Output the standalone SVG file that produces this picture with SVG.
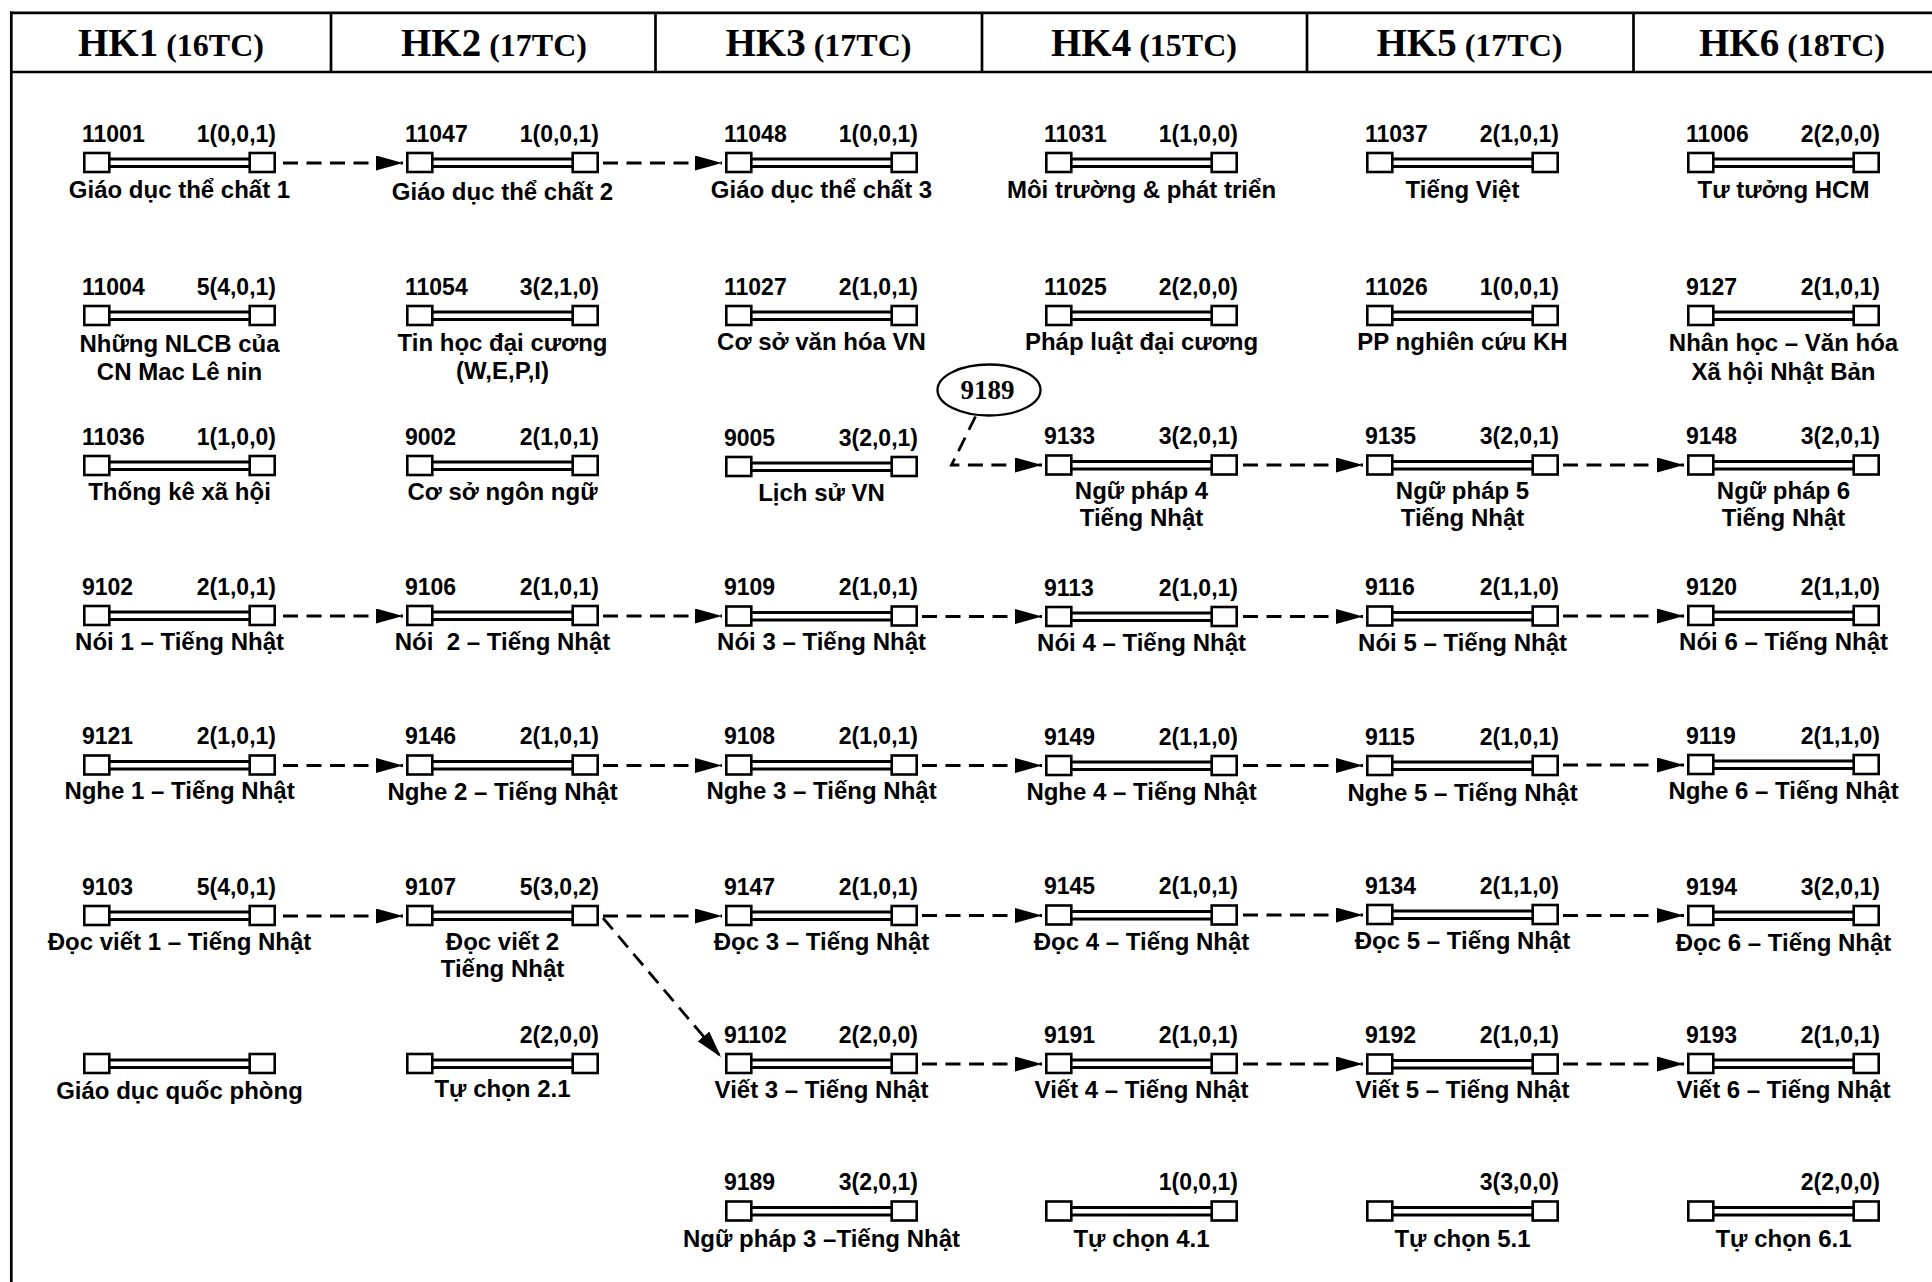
<svg xmlns="http://www.w3.org/2000/svg" xmlns:xlink="http://www.w3.org/1999/xlink" width="1932" height="1282" viewBox="0 0 1932 1282">
<style>
.frame{stroke:#000;stroke-width:2.7;fill:none}
.hd{font-family:"Liberation Serif","Times New Roman",serif;font-weight:bold;fill:#000;text-anchor:middle}
.hk{font-size:39px}
.tc{font-size:32px}
.code{font-family:"Liberation Sans",Arial,sans-serif;font-weight:bold;font-size:23px;fill:#000}
.cr{text-anchor:end}
.nm{font-family:"Liberation Sans",Arial,sans-serif;font-weight:bold;font-size:24px;fill:#000;text-anchor:middle}
.bar{fill:#fff;stroke:#000;stroke-width:3}
.sq{fill:#fff;stroke:#000;stroke-width:2.6}
.con{fill:none;stroke:#000;stroke-width:2.8;stroke-dasharray:15 8.5}
.callout{fill:#fff;stroke:#000;stroke-width:2.3}
.ct{font-family:"Liberation Serif","Times New Roman",serif;font-weight:bold;font-size:27px;fill:#000;text-anchor:middle}
</style>
<defs>
<marker id="arr" markerUnits="userSpaceOnUse" markerWidth="27" markerHeight="16" refX="27" refY="7.5" orient="auto">
<path d="M0,0 L27,7.5 L0,15 Z" fill="#000"/>
</marker>
<g id="shape">
<rect class="bar" x="14" y="-3.5" width="165" height="7.5"/>
<rect class="sq" x="1.3" y="-9.5" width="25" height="19"/>
<rect class="sq" x="166.7" y="-9.5" width="25" height="19"/>
</g>
</defs>
<rect width="1932" height="1282" fill="#fff"/>
<g id="frame">
<line class="frame" x1="10" y1="12.8" x2="1932" y2="12.8"/>
<line class="frame" x1="10" y1="72" x2="1932" y2="72"/>
<line class="frame" x1="11.3" y1="11.5" x2="11.3" y2="1282"/>
<line class="frame" x1="331" y1="12.8" x2="331" y2="72"/>
<line class="frame" x1="655.5" y1="12.8" x2="655.5" y2="72"/>
<line class="frame" x1="982" y1="12.8" x2="982" y2="72"/>
<line class="frame" x1="1307" y1="12.8" x2="1307" y2="72"/>
<line class="frame" x1="1633.5" y1="12.8" x2="1633.5" y2="72"/>
</g>
<g id="headers">
<text class="hd" x="171" y="55.5"><tspan class="hk">HK1</tspan><tspan class="tc"> (16TC)</tspan></text>
<text class="hd" x="494" y="55.5"><tspan class="hk">HK2</tspan><tspan class="tc"> (17TC)</tspan></text>
<text class="hd" x="818.5" y="55.5"><tspan class="hk">HK3</tspan><tspan class="tc"> (17TC)</tspan></text>
<text class="hd" x="1144" y="55.5"><tspan class="hk">HK4</tspan><tspan class="tc"> (15TC)</tspan></text>
<text class="hd" x="1469.5" y="55.5"><tspan class="hk">HK5</tspan><tspan class="tc"> (17TC)</tspan></text>
<text class="hd" x="1792" y="55.5"><tspan class="hk">HK6</tspan><tspan class="tc"> (18TC)</tspan></text>
</g>

<!-- HK1 -->
<g id="n11001" transform="translate(83,162.5)"><use xlink:href="#shape"/><text class="code" x="-1" y="-21">11001</text><text class="code cr" x="193" y="-21">1(0,0,1)</text><text class="nm" x="96.5" y="35">Giáo dục thể chất 1</text></g>
<g id="n11004" transform="translate(83,315.5)"><use xlink:href="#shape"/><text class="code" x="-1" y="-21">11004</text><text class="code cr" x="193" y="-21">5(4,0,1)</text><text class="nm" x="96.5" y="36">Những NLCB của</text><text class="nm" x="96.5" y="64">CN Mac Lê nin</text></g>
<g id="n11036" transform="translate(83,465.5)"><use xlink:href="#shape"/><text class="code" x="-1" y="-21">11036</text><text class="code cr" x="193" y="-21">1(1,0,0)</text><text class="nm" x="96.5" y="34">Thống kê xã hội</text></g>
<g id="n9102" transform="translate(83,615.5)"><use xlink:href="#shape"/><text class="code" x="-1" y="-21">9102</text><text class="code cr" x="193" y="-21">2(1,0,1)</text><text class="nm" x="96.5" y="34">Nói 1 – Tiếng Nhật</text></g>
<g id="n9121" transform="translate(83,765)"><use xlink:href="#shape"/><text class="code" x="-1" y="-21">9121</text><text class="code cr" x="193" y="-21">2(1,0,1)</text><text class="nm" x="96.5" y="34">Nghe 1 – Tiếng Nhật</text></g>
<g id="n9103" transform="translate(83,915.5)"><use xlink:href="#shape"/><text class="code" x="-1" y="-21">9103</text><text class="code cr" x="193" y="-21">5(4,0,1)</text><text class="nm" x="96.5" y="34.5">Đọc viết 1 – Tiếng Nhật</text></g>
<g id="nGDQP" transform="translate(83,1063.5)"><use xlink:href="#shape"/><text class="nm" x="96.5" y="35">Giáo dục quốc phòng</text></g>

<!-- HK2 -->
<g id="n11047" transform="translate(406,162.5)"><use xlink:href="#shape"/><text class="code" x="-1" y="-21">11047</text><text class="code cr" x="193" y="-21">1(0,0,1)</text><text class="nm" x="96.5" y="37">Giáo dục thể chất 2</text></g>
<g id="n11054" transform="translate(406,315.5)"><use xlink:href="#shape"/><text class="code" x="-1" y="-21">11054</text><text class="code cr" x="193" y="-21">3(2,1,0)</text><text class="nm" x="96.5" y="35">Tin học đại cương</text><text class="nm" x="96.5" y="63">(W,E,P,I)</text></g>
<g id="n9002" transform="translate(406,465.5)"><use xlink:href="#shape"/><text class="code" x="-1" y="-21">9002</text><text class="code cr" x="193" y="-21">2(1,0,1)</text><text class="nm" x="96.5" y="34">Cơ sở ngôn ngữ</text></g>
<g id="n9106" transform="translate(406,615.5)"><use xlink:href="#shape"/><text class="code" x="-1" y="-21">9106</text><text class="code cr" x="193" y="-21">2(1,0,1)</text><text class="nm" x="96.5" y="34">Nói&#160; 2 – Tiếng Nhật</text></g>
<g id="n9146" transform="translate(406,765)"><use xlink:href="#shape"/><text class="code" x="-1" y="-21">9146</text><text class="code cr" x="193" y="-21">2(1,0,1)</text><text class="nm" x="96.5" y="35">Nghe 2 – Tiếng Nhật</text></g>
<g id="n9107" transform="translate(406,915.5)"><use xlink:href="#shape"/><text class="code" x="-1" y="-21">9107</text><text class="code cr" x="193" y="-21">5(3,0,2)</text><text class="nm" x="96.5" y="34.5">Đọc viết 2</text><text class="nm" x="96.5" y="61.5">Tiếng Nhật</text></g>
<g id="nTC21" transform="translate(406,1063.5)"><use xlink:href="#shape"/><text class="code cr" x="193" y="-21">2(2,0,0)</text><text class="nm" x="96.5" y="33.5">Tự chọn 2.1</text></g>

<!-- HK3 -->
<g id="n11048" transform="translate(725,162.5)"><use xlink:href="#shape"/><text class="code" x="-1" y="-21">11048</text><text class="code cr" x="193" y="-21">1(0,0,1)</text><text class="nm" x="96.5" y="35">Giáo dục thể chất 3</text></g>
<g id="n11027" transform="translate(725,315.5)"><use xlink:href="#shape"/><text class="code" x="-1" y="-21">11027</text><text class="code cr" x="193" y="-21">2(1,0,1)</text><text class="nm" x="96.5" y="34">Cơ sở văn hóa VN</text></g>
<g id="n9005" transform="translate(725,466.5)"><use xlink:href="#shape"/><text class="code" x="-1" y="-21">9005</text><text class="code cr" x="193" y="-21">3(2,0,1)</text><text class="nm" x="96.5" y="34">Lịch sử VN</text></g>
<g id="n9109" transform="translate(725,616)"><use xlink:href="#shape"/><text class="code" x="-1" y="-21">9109</text><text class="code cr" x="193" y="-21">2(1,0,1)</text><text class="nm" x="96.5" y="34">Nói 3 – Tiếng Nhật</text></g>
<g id="n9108" transform="translate(725,765)"><use xlink:href="#shape"/><text class="code" x="-1" y="-21">9108</text><text class="code cr" x="193" y="-21">2(1,0,1)</text><text class="nm" x="96.5" y="34">Nghe 3 – Tiếng Nhật</text></g>
<g id="n9147" transform="translate(725,915.5)"><use xlink:href="#shape"/><text class="code" x="-1" y="-21">9147</text><text class="code cr" x="193" y="-21">2(1,0,1)</text><text class="nm" x="96.5" y="34.5">Đọc 3 – Tiếng Nhật</text></g>
<g id="n91102" transform="translate(725,1063.5)"><use xlink:href="#shape"/><text class="code" x="-1" y="-21">91102</text><text class="code cr" x="193" y="-21">2(2,0,0)</text><text class="nm" x="96.5" y="34">Viết 3 – Tiếng Nhật</text></g>
<g id="n9189" transform="translate(725,1211)"><use xlink:href="#shape"/><text class="code" x="-1" y="-21">9189</text><text class="code cr" x="193" y="-21">3(2,0,1)</text><text class="nm" x="96.5" y="35.5">Ngữ pháp 3 –Tiếng Nhật</text></g>

<!-- HK4 -->
<g id="n11031" transform="translate(1045,162.5)"><use xlink:href="#shape"/><text class="code" x="-1" y="-21">11031</text><text class="code cr" x="193" y="-21">1(1,0,0)</text><text class="nm" x="96.5" y="35">Môi trường &amp; phát triển</text></g>
<g id="n11025" transform="translate(1045,315.5)"><use xlink:href="#shape"/><text class="code" x="-1" y="-21">11025</text><text class="code cr" x="193" y="-21">2(2,0,0)</text><text class="nm" x="96.5" y="34">Pháp luật đại cương</text></g>
<g id="n9133" transform="translate(1045,465)"><use xlink:href="#shape"/><text class="code" x="-1" y="-21">9133</text><text class="code cr" x="193" y="-21">3(2,0,1)</text><text class="nm" x="96.5" y="33.5">Ngữ pháp 4</text><text class="nm" x="96.5" y="60.5">Tiếng Nhật</text></g>
<g id="n9113" transform="translate(1045,616.5)"><use xlink:href="#shape"/><text class="code" x="-1" y="-21">9113</text><text class="code cr" x="193" y="-21">2(1,0,1)</text><text class="nm" x="96.5" y="34">Nói 4 – Tiếng Nhật</text></g>
<g id="n9149" transform="translate(1045,765.5)"><use xlink:href="#shape"/><text class="code" x="-1" y="-21">9149</text><text class="code cr" x="193" y="-21">2(1,1,0)</text><text class="nm" x="96.5" y="34.5">Nghe 4 – Tiếng Nhật</text></g>
<g id="n9145" transform="translate(1045,915)"><use xlink:href="#shape"/><text class="code" x="-1" y="-21">9145</text><text class="code cr" x="193" y="-21">2(1,0,1)</text><text class="nm" x="96.5" y="34.5">Đọc 4 – Tiếng Nhật</text></g>
<g id="n9191" transform="translate(1045,1063.5)"><use xlink:href="#shape"/><text class="code" x="-1" y="-21">9191</text><text class="code cr" x="193" y="-21">2(1,0,1)</text><text class="nm" x="96.5" y="34">Viết 4 – Tiếng Nhật</text></g>
<g id="nTC41" transform="translate(1045,1211)"><use xlink:href="#shape"/><text class="code cr" x="193" y="-21">1(0,0,1)</text><text class="nm" x="96.5" y="35.5">Tự chọn 4.1</text></g>

<!-- HK5 -->
<g id="n11037" transform="translate(1366,162.5)"><use xlink:href="#shape"/><text class="code" x="-1" y="-21">11037</text><text class="code cr" x="193" y="-21">2(1,0,1)</text><text class="nm" x="96.5" y="35">Tiếng Việt</text></g>
<g id="n11026" transform="translate(1366,315.5)"><use xlink:href="#shape"/><text class="code" x="-1" y="-21">11026</text><text class="code cr" x="193" y="-21">1(0,0,1)</text><text class="nm" x="96.5" y="34">PP nghiên cứu KH</text></g>
<g id="n9135" transform="translate(1366,465)"><use xlink:href="#shape"/><text class="code" x="-1" y="-21">9135</text><text class="code cr" x="193" y="-21">3(2,0,1)</text><text class="nm" x="96.5" y="33.5">Ngữ pháp 5</text><text class="nm" x="96.5" y="60.5">Tiếng Nhật</text></g>
<g id="n9116" transform="translate(1366,616)"><use xlink:href="#shape"/><text class="code" x="-1" y="-21">9116</text><text class="code cr" x="193" y="-21">2(1,1,0)</text><text class="nm" x="96.5" y="34.5">Nói 5 – Tiếng Nhật</text></g>
<g id="n9115" transform="translate(1366,765.5)"><use xlink:href="#shape"/><text class="code" x="-1" y="-21">9115</text><text class="code cr" x="193" y="-21">2(1,0,1)</text><text class="nm" x="96.5" y="35">Nghe 5 – Tiếng Nhật</text></g>
<g id="n9134" transform="translate(1366,914.5)"><use xlink:href="#shape"/><text class="code" x="-1" y="-21">9134</text><text class="code cr" x="193" y="-21">2(1,1,0)</text><text class="nm" x="96.5" y="34.5">Đọc 5 – Tiếng Nhật</text></g>
<g id="n9192" transform="translate(1366,1064)"><use xlink:href="#shape"/><text class="code" x="-1" y="-21">9192</text><text class="code cr" x="193" y="-21">2(1,0,1)</text><text class="nm" x="96.5" y="34">Viết 5 – Tiếng Nhật</text></g>
<g id="nTC51" transform="translate(1366,1211)"><use xlink:href="#shape"/><text class="code cr" x="193" y="-21">3(3,0,0)</text><text class="nm" x="96.5" y="35.5">Tự chọn 5.1</text></g>

<!-- HK6 -->
<g id="n11006" transform="translate(1687,162.5)"><use xlink:href="#shape"/><text class="code" x="-1" y="-21">11006</text><text class="code cr" x="193" y="-21">2(2,0,0)</text><text class="nm" x="96.5" y="35">Tư tưởng HCM</text></g>
<g id="n9127" transform="translate(1687,315.5)"><use xlink:href="#shape"/><text class="code" x="-1" y="-21">9127</text><text class="code cr" x="193" y="-21">2(1,0,1)</text><text class="nm" x="96.5" y="35">Nhân học – Văn hóa</text><text class="nm" x="96.5" y="64">Xã hội Nhật Bản</text></g>
<g id="n9148" transform="translate(1687,465)"><use xlink:href="#shape"/><text class="code" x="-1" y="-21">9148</text><text class="code cr" x="193" y="-21">3(2,0,1)</text><text class="nm" x="96.5" y="34">Ngữ pháp 6</text><text class="nm" x="96.5" y="61">Tiếng Nhật</text></g>
<g id="n9120" transform="translate(1687,615.5)"><use xlink:href="#shape"/><text class="code" x="-1" y="-21">9120</text><text class="code cr" x="193" y="-21">2(1,1,0)</text><text class="nm" x="96.5" y="34">Nói 6 – Tiếng Nhật</text></g>
<g id="n9119" transform="translate(1687,764.5)"><use xlink:href="#shape"/><text class="code" x="-1" y="-21">9119</text><text class="code cr" x="193" y="-21">2(1,1,0)</text><text class="nm" x="96.5" y="34">Nghe 6 – Tiếng Nhật</text></g>
<g id="n9194" transform="translate(1687,915.5)"><use xlink:href="#shape"/><text class="code" x="-1" y="-21">9194</text><text class="code cr" x="193" y="-21">3(2,0,1)</text><text class="nm" x="96.5" y="35">Đọc 6 – Tiếng Nhật</text></g>
<g id="n9193" transform="translate(1687,1063.5)"><use xlink:href="#shape"/><text class="code" x="-1" y="-21">9193</text><text class="code cr" x="193" y="-21">2(1,0,1)</text><text class="nm" x="96.5" y="34">Viết 6 – Tiếng Nhật</text></g>
<g id="nTC61" transform="translate(1687,1211)"><use xlink:href="#shape"/><text class="code cr" x="193" y="-21">2(2,0,0)</text><text class="nm" x="96.5" y="35.5">Tự chọn 6.1</text></g>

<!-- callout -->
<g id="callout9189">
<ellipse class="callout" cx="989" cy="390" rx="51.5" ry="25.5"/>
<text class="ct" x="987.5" y="398.5">9189</text>
</g>

<g id="connectors">
<line class="con" marker-end="url(#arr)" x1="283" y1="163" x2="403" y2="163"/>
<line class="con" marker-end="url(#arr)" x1="603" y1="163" x2="722" y2="163"/>

<polyline class="con" marker-end="url(#arr)" points="975.5,416.5 951.5,465 1042,465"/>
<line class="con" marker-end="url(#arr)" x1="1243" y1="465" x2="1363" y2="465"/>
<line class="con" marker-end="url(#arr)" x1="1563" y1="465" x2="1684" y2="465"/>

<line class="con" marker-end="url(#arr)" x1="283" y1="616" x2="403" y2="616"/>
<line class="con" marker-end="url(#arr)" x1="603" y1="616" x2="722" y2="616"/>
<line class="con" marker-end="url(#arr)" x1="922" y1="616.5" x2="1042" y2="616.5"/>
<line class="con" marker-end="url(#arr)" x1="1243" y1="616.5" x2="1363" y2="616.5"/>
<line class="con" marker-end="url(#arr)" x1="1563" y1="616" x2="1684" y2="616"/>

<line class="con" marker-end="url(#arr)" x1="283" y1="765.5" x2="403" y2="765.5"/>
<line class="con" marker-end="url(#arr)" x1="603" y1="765.5" x2="722" y2="765.5"/>
<line class="con" marker-end="url(#arr)" x1="922" y1="765.5" x2="1042" y2="765.5"/>
<line class="con" marker-end="url(#arr)" x1="1243" y1="765.5" x2="1363" y2="765.5"/>
<line class="con" marker-end="url(#arr)" x1="1563" y1="765" x2="1684" y2="765"/>

<line class="con" marker-end="url(#arr)" x1="283" y1="916" x2="403" y2="916"/>
<line class="con" marker-end="url(#arr)" x1="603" y1="916" x2="722" y2="916"/>
<line class="con" marker-end="url(#arr)" x1="603" y1="918" x2="721" y2="1057"/>
<line class="con" marker-end="url(#arr)" x1="922" y1="915.5" x2="1042" y2="915.5"/>
<line class="con" marker-end="url(#arr)" x1="1243" y1="915" x2="1363" y2="915"/>
<line class="con" marker-end="url(#arr)" x1="1563" y1="915.5" x2="1684" y2="915.5"/>

<line class="con" marker-end="url(#arr)" x1="922" y1="1064" x2="1042" y2="1064"/>
<line class="con" marker-end="url(#arr)" x1="1243" y1="1064" x2="1363" y2="1064"/>
<line class="con" marker-end="url(#arr)" x1="1563" y1="1064" x2="1684" y2="1064"/>
</g>
</svg>
